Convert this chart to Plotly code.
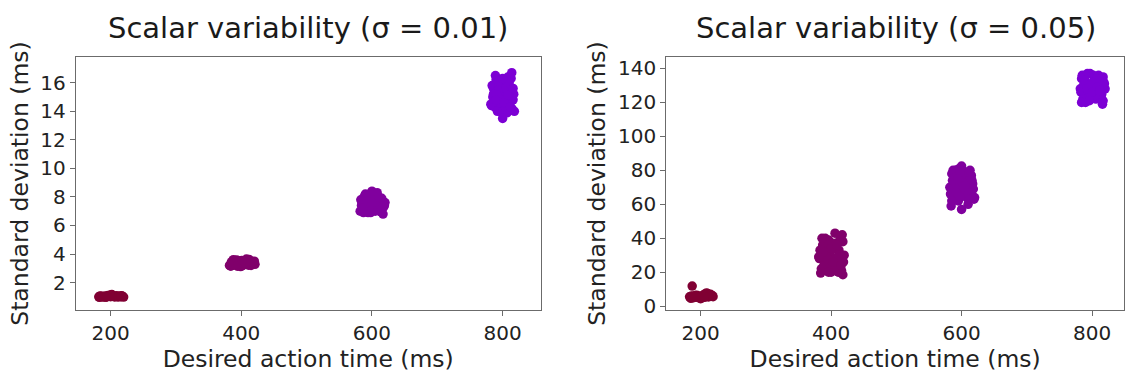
import plotly.graph_objects as go

# ---------------- data ----------------
L200_x = [182,185,188,191,194,197,200,203,206,209,
          212,215,218,184,190,196,202,208,214,220,
          187,193,199,205,211,217,183,200,216,195]
L200_y = [1.00,1.04,0.98,1.06,1.02,1.08,1.13,1.05,0.99,1.07,
          1.03,1.00,1.05,1.06,1.01,1.09,1.16,1.02,1.06,0.98,
          1.03,0.97,1.10,1.04,0.99,1.07,0.97,1.01,1.02,1.05]

L400_x = [382,385,388,391,394,397,400,403,406,409,
          412,415,418,421,384,390,396,402,408,414,
          420,387,393,399,405,411,417,395,407,401]
L400_y = [3.20,3.45,3.60,3.30,3.15,3.50,3.35,3.25,3.55,3.40,
          3.62,3.20,3.48,3.28,3.15,3.38,3.52,3.18,3.65,3.30,
          3.50,3.25,3.58,3.12,3.42,3.22,3.40,3.28,3.35,3.55]

L600_x = [582,585,588,591,594,597,600,603,606,609,
          612,615,618,584,590,596,602,608,614,620,
          587,593,599,605,611,617,583,589,595,601,
          607,613,619,592,598,604,610,616,586,600]
L600_y = [7.00,7.60,8.00,7.30,6.90,7.80,8.40,7.20,8.10,7.50,
          7.00,7.90,7.30,7.40,8.20,7.10,7.70,8.30,6.95,7.60,
          6.90,7.50,8.00,7.00,7.80,6.80,7.80,7.00,7.40,8.10,
          7.20,7.90,7.40,7.70,6.90,7.50,8.00,7.20,7.20,7.60]

L800_x = [783,786,789,792,795,798,801,804,807,810,
          813,816,785,791,797,803,809,815,784,790,
          796,802,808,814,818,787,793,799,805,811,
          817,788,794,800,806,812,782,798,804,810,
          792,786,814,800,796,808,790,802,812,816]
L800_y = [14.4,15.6,16.5,14.0,15.2,16.2,14.6,15.9,13.9,15.4,
          16.3,14.8,15.0,14.2,15.8,16.0,14.4,15.6,15.8,16.2,
          14.1,15.3,16.4,14.2,14.0,14.7,15.5,13.9,14.9,15.7,
          15.2,14.3,16.1,13.5,15.6,14.9,14.5,15.0,14.3,16.0,
          15.1,15.2,16.7,16.3,14.6,15.1,14.8,14.6,14.3,15.6]

R200_x = [183,186,189,192,195,198,201,204,207,210,
          213,216,219,185,191,197,203,209,215,188,
          200,212,194,206,218,187]
R200_y = [5.5,6.0,5.0,6.2,5.4,4.8,5.8,6.5,7.2,7.5,
          6.8,6.0,5.6,4.6,5.2,6.0,5.0,7.8,7.0,5.8,
          4.4,5.4,6.4,5.2,6.2,11.8]

R400_x = [382,385,388,391,394,397,400,403,406,409,
          412,415,418,420,384,390,396,402,408,414,
          419,387,393,399,405,411,417,383,389,395,
          401,407,413,386,392,398,404,410,416,400,
          394,406,418,388,412,396,403,409,381,415]
R400_y = [28.0,22.0,35.0,40.0,25.0,31.0,20.0,37.0,43.0,27.0,
          33.0,24.0,38.0,30.0,19.5,29.0,39.0,23.0,34.0,41.0,
          26.0,36.0,21.0,32.0,28.0,20.0,42.0,33.0,24.0,37.0,
          27.0,22.0,30.0,40.0,31.0,25.0,35.0,29.0,21.0,34.0,
          28.0,23.0,18.5,32.0,38.0,20.0,26.0,36.0,29.0,24.0]

R600_x = [582,585,588,591,594,597,600,603,606,609,
          612,615,618,620,584,590,596,602,608,614,
          619,587,593,599,605,611,617,583,589,595,
          601,607,613,586,592,598,604,610,616,600,
          585,610,594,606,598]
R600_y = [70.0,78.0,65.0,80.0,73.0,68.0,82.5,75.0,79.0,71.0,
          66.0,77.0,69.0,64.0,59.0,74.0,81.0,67.0,72.0,76.0,
          63.0,80.0,70.0,77.0,65.0,79.0,72.0,66.0,76.0,62.0,
          73.0,68.0,80.0,74.0,67.0,79.0,70.0,63.0,74.0,57.0,
          62.0,60.0,75.0,71.0,64.0]

R800_x = [782,785,788,791,794,797,800,803,806,809,
          812,815,818,820,784,790,796,802,808,814,
          819,787,793,799,805,811,817,783,789,795,
          801,807,813,786,792,798,804,810,816,800,
          784,817,796,808,812]
R800_y = [128.0,136.0,121.0,131.0,124.0,137.0,127.0,133.0,122.0,130.0,
          135.0,125.0,132.0,128.0,134.0,120.0,129.0,136.0,126.0,123.0,
          131.0,130.0,137.0,125.0,132.0,128.0,121.0,126.0,133.0,123.0,
          130.0,134.0,127.0,122.0,128.0,131.0,124.0,136.0,119.0,126.0,
          120.0,135.0,121.0,129.0,127.0]

x_ticks = [200, 400, 600, 800]
left_y_ticks = [2, 4, 6, 8, 10, 12, 14, 16]
right_y_ticks = [0, 20, 40, 60, 80, 100, 120, 140]
titles = ["Scalar variability (σ = 0.01)", "Scalar variability (σ = 0.05)"]
x_label = "Desired action time (ms)"
y_label = "Standard deviation (ms)"

# ---------------- styling ----------------
COLORS = ["#800033", "#80006b", "#80009e", "#7c00d4"]
FONT = "DejaVu Sans"
W, H = 1125, 375

fig = go.Figure()
left = [(L200_x, L200_y), (L400_x, L400_y), (L600_x, L600_y), (L800_x, L800_y)]
right = [(R200_x, R200_y), (R400_x, R400_y), (R600_x, R600_y), (R800_x, R800_y)]
for (xs, ys), c in zip(left, COLORS):
    fig.add_trace(go.Scatter(x=xs, y=ys, mode="markers", xaxis="x", yaxis="y",
                             marker=dict(size=9.5, color=c, line=dict(width=0)),
                             showlegend=False))
for (xs, ys), c in zip(right, COLORS):
    fig.add_trace(go.Scatter(x=xs, y=ys, mode="markers", xaxis="x2", yaxis="y2",
                             marker=dict(size=9.5, color=c, line=dict(width=0)),
                             showlegend=False))

ax_common = dict(showline=True, mirror=True, linecolor="#6b6b6b", linewidth=1.4,
                 ticks="outside", ticklen=5, tickwidth=1.2, tickcolor="#6b6b6b",
                 showgrid=False, zeroline=False,
                 tickfont=dict(family=FONT, size=20, color="#222222"))
ydom = [1 - 317 / H, 1 - 58 / H]
label_font = dict(family=FONT, size=23.5, color="#222222")

fig.update_layout(
    width=W, height=H, margin=dict(l=0, r=0, t=0, b=0),
    paper_bgcolor="white", plot_bgcolor="white",
    xaxis=dict(domain=[76 / W, 541 / W], range=[147, 858], tickvals=x_ticks,
               anchor="y", title=dict(text=x_label, font=label_font, standoff=6),
               **ax_common),
    yaxis=dict(domain=ydom, range=[0.11, 17.77], tickvals=left_y_ticks, anchor="x",
               title=dict(text=y_label, font=label_font, standoff=5),
               **ax_common),
    xaxis2=dict(domain=[667 / W, 1.0], range=[147.5, 849], tickvals=x_ticks,
                anchor="y2", title=dict(text=x_label, font=label_font, standoff=6),
                **ax_common),
    yaxis2=dict(domain=ydom, range=[-2, 146.5], tickvals=right_y_ticks, anchor="x2",
                title=dict(text=y_label, font=label_font, standoff=5),
                **ax_common),
)

for cx, t in zip([308.5 / W, 897 / W], titles):
    fig.add_annotation(text=t, x=cx, y=1 - 28 / H, xref="paper", yref="paper",
                       xanchor="center", yanchor="middle", showarrow=False,
                       font=dict(family=FONT, size=29, color="#1a1a1a"))

fig.write_html("out.html",
               config={"displayModeBar": False},
               post_script="document.body.style.margin='0';"
                           "document.body.style.overflow='hidden';")
